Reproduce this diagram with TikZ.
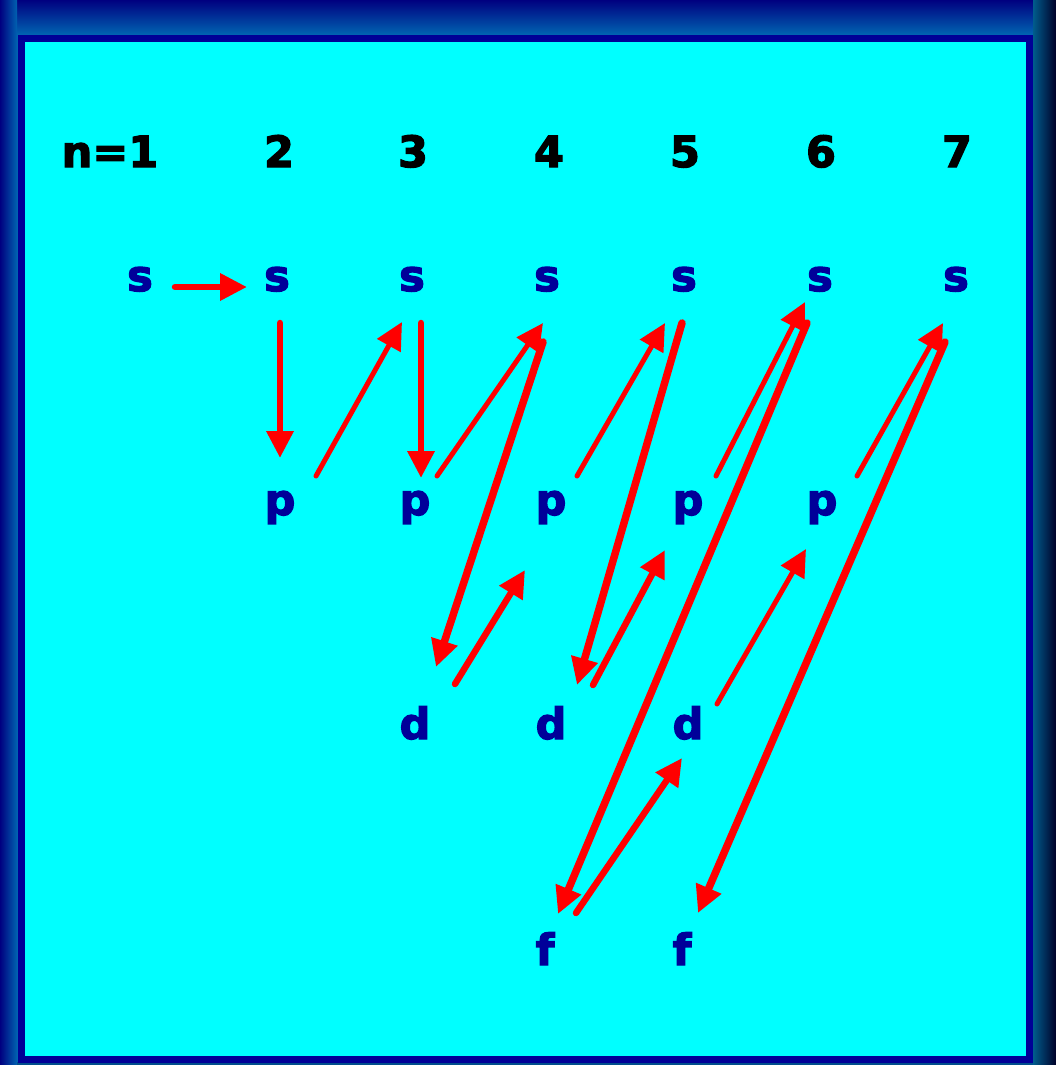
\documentclass[tikz,border=0pt]{standalone}
\usepackage{fontspec}
\setmainfont{DejaVu Sans}[BoldFeatures={FakeBold=3}]
\usetikzlibrary{arrows.meta,calc}

\definecolor{cyanbg}{RGB}{0,255,255}
\definecolor{navy}{RGB}{0,0,128}
\definecolor{framemid}{RGB}{0,98,176}
\definecolor{frameright}{RGB}{0,92,140}
\definecolor{framedark}{RGB}{0,0,40}
\definecolor{edgeblue}{RGB}{0,0,150}
\definecolor{letterblue}{RGB}{0,0,153}
\definecolor{arrowred}{RGB}{255,0,0}

\tikzset{
  header/.style={anchor=base, text=black, font=\fontsize{43}{50}\selectfont\bfseries, inner sep=0pt},
  orbital/.style={anchor=base, text=letterblue, font=\fontsize{43}{50}\selectfont\bfseries, inner sep=0pt},
  fill order/.style={draw=arrowred, line width=6.5pt, line cap=round,
    -{Triangle[length=27pt,width=26pt]}},
  thin order/.style={fill order, line width=5pt},
  long order/.style={fill order, line width=7.5pt},
}

\begin{document}
\begin{tikzpicture}[x=1pt,y=-1pt]
\useasboundingbox (0,0) rectangle (1056,1065);

% bevelled outer frame
\fill[framemid] (0,0) rectangle (1056,1065);
\shade[top color=navy, bottom color=framemid] (0,0) rectangle (1056,34);
\shade[left color=navy, right color=framemid] (0,0) rectangle (17,1065);
\shade[left color=frameright, right color=framedark] (1033,0) rectangle (1056,1065);
\fill[framemid!80!black] (17,1062) rectangle (1033,1065);

% inner panel
\draw[edgeblue, line width=7pt, fill=cyanbg] (21.5,38.5) rectangle (1029.5,1059);

% principal quantum numbers
\node[header] (h1) at (110,167) {n=1};
\node[header] (h2) at (279,167) {2};
\node[header] (h3) at (413,167) {3};
\node[header] (h4) at (549,167) {4};
\node[header] (h5) at (685,167) {5};
\node[header] (h6) at (821,167) {6};
\node[header] (h7) at (957,167) {7};

% subshells
\node[orbital] (s1) at (140,291) {s};
\node[orbital] (s2) at (277,291) {s};
\node[orbital] (s3) at (412,291) {s};
\node[orbital] (s4) at (547,291) {s};
\node[orbital] (s5) at (684,291) {s};
\node[orbital] (s6) at (820,291) {s};
\node[orbital] (s7) at (956,291) {s};

\node[orbital] (p2) at (280,515) {p};
\node[orbital] (p3) at (415,515) {p};
\node[orbital] (p4) at (551,515) {p};
\node[orbital] (p5) at (688,515) {p};
\node[orbital] (p6) at (822,515) {p};

\node[orbital] (d3) at (415,739) {d};
\node[orbital] (d4) at (551,739) {d};
\node[orbital] (d5) at (688,739) {d};

\node[orbital] (f4) at (545,965) {f};
\node[orbital] (f5) at (682,965) {f};

% filling order
\draw[fill order] ($(s1.base)+(35,-4)$) -- ($(s2.base)+(-30,-4)$);
\draw[fill order] ($(s2.base)+(3,32)$) -- ($(p2.base)+(0,-57)$);
\draw[thin order] ($(p2.base)+(36,-39)$) -- ($(s3.base)+(-10,31)$);
\draw[fill order] ($(s3.base)+(9,32)$) -- ($(p3.base)+(6,-37)$);
\draw[thin order] ($(p3.base)+(22,-39)$) -- ($(s4.base)+(-4,32)$);
\draw[long order] ($(s4.base)+(-4,51)$) -- ($(d3.base)+(21,-72)$);
\draw[fill order] ($(d3.base)+(40,-55)$) -- ($(p4.base)+(-26,55)$);
\draw[thin order] ($(p4.base)+(26,-39)$) -- ($(s5.base)+(-19,32)$);
\draw[long order] ($(s5.base)+(-2,32)$) -- ($(d4.base)+(26,-54)$);
\draw[fill order] ($(d4.base)+(42,-54)$) -- ($(p5.base)+(-23,35)$);
\draw[thin order] ($(p5.base)+(28,-39)$) -- ($(s6.base)+(-15,11)$);
\draw[long order] ($(s6.base)+(-13,32)$) -- ($(f4.base)+(13,-51)$);
\draw[fill order] ($(f4.base)+(31,-52)$) -- ($(d5.base)+(-6,19)$);
\draw[thin order] ($(d5.base)+(29,-35)$) -- ($(p6.base)+(-16,34)$);
\draw[thin order] ($(p6.base)+(35,-39)$) -- ($(s7.base)+(-13,32)$);
\draw[long order] ($(s7.base)+(-11,51)$) -- ($(f5.base)+(16,-52)$);
\end{tikzpicture}
\end{document}
